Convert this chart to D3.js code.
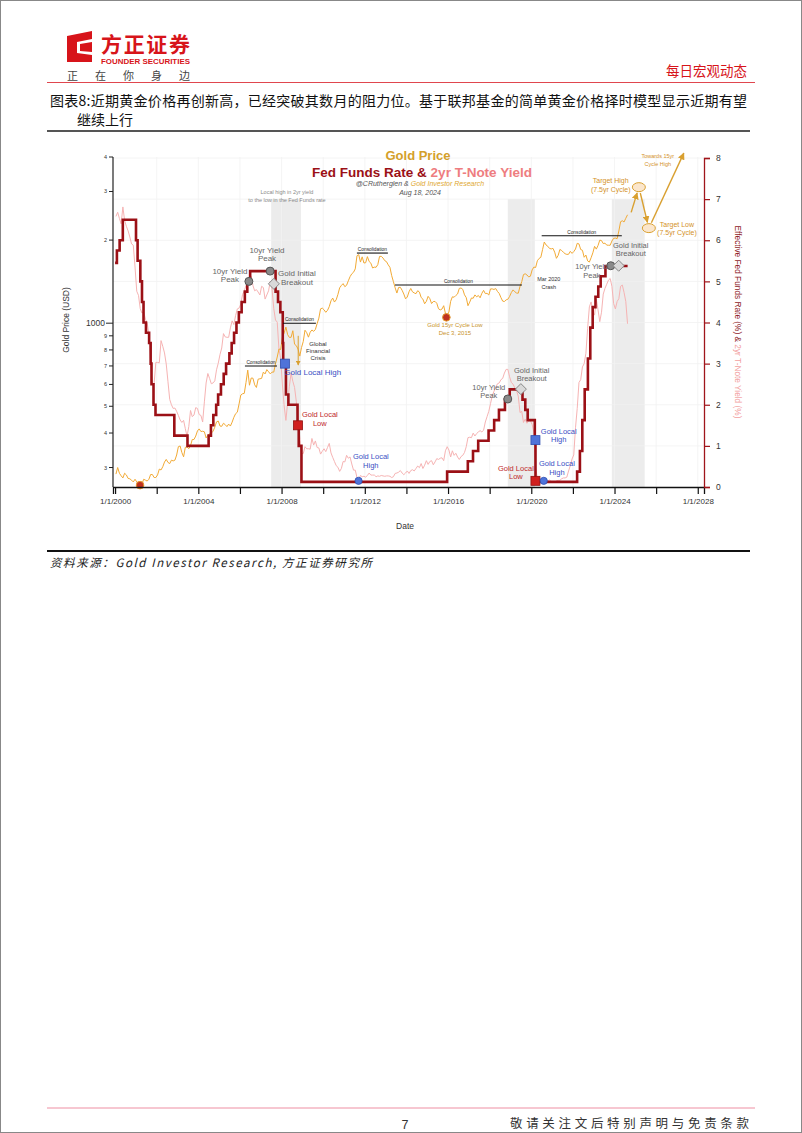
<!DOCTYPE html>
<html><head><meta charset="utf-8">
<script src="https://cdn.jsdelivr.net/npm/d3@7"></script>
<style>
body{margin:0;background:#fff;}
svg text{font-family:"Liberation Sans",Arial,sans-serif;}
svg text.cn{font-family:"Noto Sans CJK SC",sans-serif;}
</style></head><body>
<svg id="c" width="802" height="1133"></svg>
<script>
// ---------------- DATA ----------------
// Monthly gold price (USD/oz), starting Jan 2000
const goldPrice = [
284,300,286,280,275,286,282,274,273,270,266,272,
266,262,263,261,272,270,268,272,283,283,276,276,
282,296,294,302,314,321,313,310,319,317,319,333,
357,359,340,328,355,356,351,360,379,379,390,407,
414,405,406,404,384,392,398,400,406,420,439,442,
424,423,434,429,422,431,424,438,456,470,476,510,
549,555,557,610,676,596,633,632,598,585,627,629,
631,665,655,679,667,655,665,665,712,754,806,803,
889,922,968,909,888,889,939,839,829,806,760,816,
858,943,924,890,928,945,934,949,996,1043,1127,1134,
1118,1095,1113,1148,1205,1233,1193,1215,1271,1343,1370,1391,
1356,1372,1424,1474,1510,1529,1573,1756,1772,1665,1739,1652,
1656,1742,1673,1650,1585,1596,1594,1630,1745,1747,1722,1685,
1671,1627,1593,1487,1414,1343,1286,1347,1349,1316,1275,1225,
1244,1300,1336,1299,1287,1279,1311,1296,1239,1222,1176,1200,
1251,1227,1178,1198,1199,1181,1128,1117,1125,1157,1086,1068,
1097,1199,1246,1242,1260,1276,1337,1341,1326,1267,1238,1157,
1192,1234,1231,1266,1246,1260,1236,1283,1315,1280,1283,1265,
1331,1331,1325,1335,1303,1282,1238,1202,1198,1215,1221,1250,
1291,1320,1300,1286,1284,1359,1413,1500,1510,1495,1471,1480,
1560,1597,1591,1683,1716,1732,1847,1968,1921,1900,1866,1858,
1867,1808,1718,1760,1850,1834,1807,1785,1775,1777,1821,1790,
1817,1856,1947,1937,1849,1837,1733,1765,1681,1665,1726,1798,
1898,1855,1912,1999,1992,1943,1950,1918,1916,1916,1985,2030,
2034,2023,2158,2331,2350,2326,2399,2470
];
// Monthly 2yr T-Note yield (%), starting Jan 2000
const tnote2y = [
6.58,6.68,6.53,6.40,6.81,6.48,6.34,6.23,6.08,5.91,5.88,5.35,
4.76,4.66,4.34,4.23,4.26,4.08,3.99,3.71,3.05,2.49,2.51,3.03,
3.03,3.02,3.56,3.42,3.26,2.99,2.56,2.13,2.00,1.91,1.92,1.84,
1.74,1.63,1.57,1.62,1.42,1.23,1.47,1.86,1.71,1.75,1.93,1.91,
1.76,1.74,1.58,2.07,2.53,2.76,2.64,2.51,2.53,2.58,2.85,3.01,
3.22,3.38,3.73,3.65,3.64,3.64,3.87,4.04,3.95,4.17,4.33,4.35,
4.45,4.68,4.77,4.90,5.00,5.07,5.12,4.90,4.77,4.80,4.74,4.67,
4.88,4.85,4.57,4.67,4.77,5.00,4.82,4.34,4.06,4.01,3.35,3.12,
2.48,1.97,1.62,2.05,2.45,2.77,2.57,2.42,2.08,1.61,1.21,0.82,
0.81,0.98,0.93,0.93,0.92,1.18,1.02,1.12,0.96,0.95,0.80,0.87,
0.93,0.86,0.96,1.06,0.83,0.72,0.62,0.52,0.48,0.38,0.45,0.62,
0.61,0.77,0.70,0.73,0.56,0.41,0.41,0.23,0.20,0.28,0.25,0.26,
0.24,0.28,0.34,0.29,0.29,0.29,0.25,0.27,0.26,0.28,0.27,0.26,
0.27,0.27,0.26,0.23,0.25,0.33,0.34,0.36,0.40,0.34,0.30,0.34,
0.39,0.33,0.40,0.42,0.39,0.45,0.51,0.47,0.57,0.45,0.53,0.64,
0.55,0.62,0.64,0.54,0.61,0.69,0.67,0.70,0.71,0.64,0.88,0.98,
0.90,0.73,0.88,0.77,0.82,0.73,0.67,0.74,0.77,0.84,0.98,1.20,
1.21,1.20,1.31,1.24,1.30,1.34,1.37,1.34,1.38,1.58,1.71,1.84,
2.03,2.22,2.33,2.42,2.51,2.53,2.61,2.64,2.77,2.86,2.86,2.68,
2.54,2.50,2.41,2.34,2.21,1.81,1.84,1.57,1.65,1.55,1.61,1.61,
1.52,1.33,0.45,0.22,0.17,0.19,0.15,0.14,0.13,0.14,0.17,0.13,
0.13,0.12,0.15,0.16,0.16,0.20,0.22,0.22,0.24,0.39,0.52,0.68,
0.78,1.44,1.91,2.54,2.61,2.92,3.00,3.25,3.86,4.38,4.50,4.29,
4.18,4.57,4.31,4.02,4.25,4.69,4.83,4.93,5.03,5.07,4.88,4.46,
4.33,4.51,4.58,4.88,4.91,4.73,4.51,3.97
];
// Fed funds rate changes [date, rate %]
const fedSteps = [
["2000-01-01",5.45],["2000-02-02",5.75],["2000-03-21",6.0],["2000-05-16",6.5],["2001-01-03",6.0],["2001-01-31",5.5],
["2001-03-20",5.0],["2001-04-18",4.5],["2001-05-15",4.0],["2001-06-27",3.75],["2001-08-21",3.5],["2001-09-17",3.0],
["2001-10-02",2.5],["2001-11-06",2.0],["2001-12-11",1.75],["2002-11-06",1.25],["2003-06-25",1.0],["2004-06-30",1.25],
["2004-08-10",1.5],["2004-09-21",1.75],["2004-11-10",2.0],["2004-12-14",2.25],["2005-02-02",2.5],["2005-03-22",2.75],
["2005-05-03",3.0],["2005-06-30",3.25],["2005-08-09",3.5],["2005-09-20",3.75],["2005-11-01",4.0],["2005-12-13",4.25],
["2006-01-31",4.5],["2006-03-28",4.75],["2006-05-10",5.0],["2006-06-29",5.25],["2007-09-18",4.75],["2007-10-31",4.5],
["2007-12-11",4.25],["2008-01-22",3.5],["2008-01-30",3.0],["2008-03-18",2.25],["2008-04-30",2.0],["2008-10-08",1.5],
["2008-10-29",1.0],["2008-12-16",0.125],["2015-12-16",0.375],["2016-12-14",0.625],["2017-03-15",0.875],["2017-06-14",1.125],
["2017-12-13",1.375],["2018-03-21",1.625],["2018-06-13",1.875],["2018-09-26",2.125],["2018-12-19",2.375],["2019-07-31",2.125],
["2019-09-18",1.875],["2019-10-30",1.625],["2020-03-03",1.125],["2020-03-15",0.125],["2022-03-16",0.375],["2022-05-04",0.875],
["2022-06-15",1.625],["2022-07-27",2.375],["2022-09-21",3.125],["2022-11-02",3.875],["2022-12-14",4.375],["2023-02-01",4.625],
["2023-03-22",4.875],["2023-05-03",5.125],["2023-07-26",5.375],["2024-08-18",5.375]
];
const xTickYears = [2000,2002,2004,2006,2008,2010,2012,2014,2016,2018,2020,2022,2024,2026,2028];
const goldTicks = [300,400,500,600,700,800,900,1000,2000,3000,4000];
const goldTickLabels = ["3","4","5","6","7","8","9","1000","2","3","4"];
const rateTicks = [0,1,2,3,4,5,6,7,8];
const shadedPeriods = [[2007.50,2008.93],[2018.87,2020.17],[2023.87,2025.45]];
// consolidation ranges [startYear, endYear, gold price]
const consolidations = [[2006.24,2007.78,700],[2008.07,2009.65,1000],[2011.62,2013.11,1795],[2013.45,2019.55,1375],[2020.50,2024.35,2075]];
// markers on the rate axis [year, rate, kind]
const rateMarkers = [
[2006.43,5.0,"gray"],[2007.45,5.25,"gray"],[2007.63,4.94,"diamond"],[2008.16,3.0,"bsq"],[2008.79,1.5,"rsq"],
[2011.70,0.15,"bcirc"],[2018.87,2.14,"gray"],[2019.50,2.38,"diamond"],[2020.20,1.14,"bsq"],[2020.20,0.15,"rsq"],
[2020.60,0.15,"bcirc"],[2023.82,5.38,"gray"],[2024.20,5.38,"diamond"]
];
// markers on the gold axis [year, price]
const goldLows = [[2001.20,259],[2015.92,1050]];
// projected path [year, price]
const projTargetHigh = [2025.17,3110];
const projTargetLow = [2025.65,2210];
const projStart = [2024.80,2520];
const projEnd = [2027.33,4130];
// annotations [year, rate, lines, color, size, line spacing]
const notes = [
[2008.26,7.12,["Local high in 2yr yield","to the low in the Fed Funds rate"],"#8a8a8a",5.5,7.5],
[2005.52,5.18,["10yr Yield","Peak"],"#666",8,8.5],
[2007.30,5.70,["10yr Yield","Peak"],"#666",8,8.5],
[2008.74,5.12,["Gold Initial","Breakout"],"#666",8,8.5],
[2009.75,3.42,["Global","Financial","Crisis"],"#333",6,7],
[2009.50,2.72,["Gold Local High"],"#3a4fc4",8,8.5],
[2009.84,1.70,["Gold Local","Low"],"#c0282b",7.5,8.5],
[2012.29,0.68,["Gold Local","High"],"#3a4fc4",7.5,8.5],
[2016.33,3.89,["Gold 15yr Cycle Low","Dec 3, 2015"],"#c8922a",6,8],
[2017.96,2.36,["10yr Yield","Peak"],"#666",7.5,8.5],
[2020.02,2.78,["Gold Initial","Breakout"],"#666",7.5,8.5],
[2020.84,5.00,["Mar 2020","Crash"],"#333",5.5,7.5],
[2021.32,1.29,["Gold Local","High"],"#3a4fc4",7.5,8.5],
[2019.26,0.39,["Gold Local","Low"],"#c0282b",7.5,8.5],
[2021.23,0.51,["Gold Local","High"],"#3a4fc4",7.5,8.5],
[2022.91,5.30,["10yr Yield","Peak"],"#666",7.5,8.5],
[2024.78,5.82,["Gold Initial","Breakout"],"#666",7.5,8.5],
[2023.82,7.38,["Target High","(7.5yr Cycle)"],"#d4922a",7,8.5],
[2027.00,6.33,["Target Low","(7.5yr Cycle)"],"#d4922a",7,8.5],
[2026.08,8.00,["Towards 15yr","Cycle High"],"#d4922a",5.5,7.5]
];

// ---------------- DRAW ----------------
const svg = d3.select("#c");
svg.append("rect").attr("x",0.5).attr("y",0.5).attr("width",801).attr("height",1132).attr("fill","#fff").attr("stroke","#888");

// header
const hdr = svg.append("g");
hdr.append("path").attr("d","M67,36 L92,31 L92,39 L77,42 L77,53 L92,55 L92,62 L67,62 Z").attr("fill","#d7141a");
hdr.append("path").attr("d","M80,44 L92,42 L92,52 L80,51 Z").attr("fill","#d7141a");
hdr.append("text").attr("class","cn").attr("x",101).attr("y",52).attr("font-size",21).attr("font-weight","bold").attr("fill","#d7141a").attr("textLength",89).text("方正证券");
hdr.append("text").attr("x",101).attr("y",64).attr("font-size",7).attr("font-weight","bold").attr("fill","#d7141a").attr("textLength",89).attr("lengthAdjust","spacingAndGlyphs").text("FOUNDER SECURITIES");
hdr.append("text").attr("class","cn").attr("x",67).attr("y",80).attr("font-size",11).attr("fill","#444").attr("textLength",123).text("正在你身边");
hdr.append("text").attr("class","cn").attr("x",747).attr("y",76).attr("text-anchor","end").attr("font-size",13.5).attr("fill","#d7141a").text("每日宏观动态");
hdr.append("line").attr("x1",47).attr("x2",755).attr("y1",82.5).attr("y2",82.5).attr("stroke","#e0464e").attr("stroke-width",1);
hdr.append("text").attr("class","cn").attr("x",50).attr("y",106).attr("font-size",14).attr("fill","#111").attr("textLength",697).text("图表8:近期黄金价格再创新高，已经突破其数月的阻力位。基于联邦基金的简单黄金价格择时模型显示近期有望");
hdr.append("text").attr("class","cn").attr("x",77).attr("y",125).attr("font-size",14).attr("fill","#111").text("继续上行");
hdr.append("line").attr("x1",47).attr("x2",750).attr("y1",131).attr("y2",131).attr("stroke","#555").attr("stroke-width",2);
svg.append("line").attr("x1",47).attr("x2",750).attr("y1",551).attr("y2",551).attr("stroke","#111").attr("stroke-width",2);
svg.append("text").attr("class","cn").attr("x",50).attr("y",567).attr("font-size",11.5).attr("font-style","italic").attr("fill","#222").attr("textLength",322).text("资料来源：Gold Investor Research, 方正证券研究所");
svg.append("line").attr("x1",47).attr("x2",755).attr("y1",1108).attr("y2",1108).attr("stroke","#ee8fa3").attr("stroke-width",1);
svg.append("text").attr("x",405).attr("y",1129).attr("font-size",12.5).attr("fill","#333").attr("text-anchor","middle").text("7");
svg.append("text").attr("class","cn").attr("x",510).attr("y",1128).attr("font-size",12.5).attr("fill","#333").attr("textLength",239).text("敬请关注文后特别声明与免责条款");

// scales
const L = 113, R = 704, T = 157, B = 487;
const x = d3.scaleLinear().domain([1999.9, 2028.3]).range([L, R]);
const yG = d3.scaleLog().domain([255, 4000]).range([B, T]);
const yR = d3.scaleLinear().domain([0, 8]).range([B, 158]);
const parse = d3.timeParse("%Y-%m-%d");
const dec = d => { const dt = parse(d); const y0 = dt.getFullYear(); return y0 + (dt - new Date(y0,0,1)) / (new Date(y0+1,0,1) - new Date(y0,0,1)); };

const plot = svg.append("g");
// shaded periods
plot.selectAll("rect.sh").data(shadedPeriods).join("rect")
  .attr("x", d => x(d[0])).attr("width", d => x(d[1]) - x(d[0]))
  .attr("y", 199).attr("height", B - 199).attr("fill", "#ececec");
// grid
plot.selectAll("line.gh").data(rateTicks.slice(1)).join("line")
  .attr("x1", L).attr("x2", R).attr("y1", d => yR(d)).attr("y2", d => yR(d)).attr("stroke", "#f1f1f1").attr("stroke-width", 0.8);
plot.selectAll("line.gv").data(xTickYears.slice(1)).join("line")
  .attr("x1", d => x(d)).attr("x2", d => x(d)).attr("y1", T).attr("y2", B).attr("stroke", "#f1f1f1").attr("stroke-width", 0.8);

// 2yr yield
const tData = tnote2y.map((v, i) => [2000 + (i + 0.5) / 12, v]);
plot.append("path").datum(tData).attr("fill", "none").attr("stroke", "#f6b3b3").attr("stroke-width", 1)
  .attr("d", d3.line().x(d => x(d[0])).y(d => yR(d[1])));
// gold
const gData = goldPrice.map((v, i) => [2000 + (i + 0.5) / 12, v]);
plot.append("path").datum(gData).attr("fill", "none").attr("stroke", "#f2aa35").attr("stroke-width", 1)
  .attr("d", d3.line().x(d => x(d[0])).y(d => yG(d[1])));
// fed funds
const fData = fedSteps.map(d => [dec(d[0]), d[1]]);
plot.append("path").datum(fData).attr("fill", "none").attr("stroke", "#9b1016").attr("stroke-width", 2.6)
  .attr("d", d3.line().curve(d3.curveStepAfter).x(d => x(d[0])).y(d => yR(d[1])));

// consolidation lines
consolidations.forEach(c => {
  plot.append("line").attr("x1", x(c[0])).attr("x2", x(c[1])).attr("y1", yG(c[2])).attr("y2", yG(c[2])).attr("stroke", "#111").attr("stroke-width", 1.1);
  plot.append("text").attr("x", (x(c[0]) + x(c[1])) / 2).attr("y", yG(c[2]) - 2).attr("text-anchor", "middle").attr("font-size", 4.8).attr("fill", "#222").text("Consolidation");
});

// GFC arrow
const defs = svg.append("defs");
defs.append("marker").attr("id","ah").attr("viewBox","0 0 10 10").attr("refX",9).attr("refY",5).attr("markerWidth",5).attr("markerHeight",5).attr("orient","auto")
  .append("path").attr("d","M0,0 L10,5 L0,10 Z").attr("fill","#d9a030");
plot.append("line").attr("x1", x(2008.8)).attr("x2", x(2008.8)).attr("y1", yG(900)).attr("y2", yG(705)).attr("stroke","#d9a030").attr("stroke-width",1).attr("marker-end","url(#ah)");

// projection arrows
const proj = [[projStart, projTargetHigh],[projTargetHigh, projTargetLow],[projTargetLow, projEnd]];
proj.forEach((p, i) => {
  const x1 = x(p[0][0]), y1 = yG(p[0][1]), x2 = x(p[1][0]), y2 = yG(p[1][1]);
  const dx = x2 - x1, dy = y2 - y1, len = Math.hypot(dx, dy);
  const s0 = i === 0 ? 0 : 6, s1 = i === 2 ? 0 : 6;
  plot.append("line").attr("x1", x1 + dx / len * s0).attr("y1", y1 + dy / len * s0).attr("x2", x2 - dx / len * s1).attr("y2", y2 - dy / len * s1)
    .attr("stroke", "#d9a030").attr("stroke-width", 1.4).attr("marker-end", "url(#ah)");
});
[projTargetHigh, projTargetLow].forEach(p => {
  plot.append("ellipse").attr("cx", x(p[0])).attr("cy", yG(p[1])).attr("rx", 6.5).attr("ry", 4.5).attr("fill", "#fbe6cc").attr("stroke", "#d9a030").attr("stroke-width", 1);
});

// gold lows
goldLows.forEach(g => {
  plot.append("circle").attr("cx", x(g[0])).attr("cy", yG(g[1])).attr("r", 3.8).attr("fill", "#c0311f").attr("stroke", "#e39a2c").attr("stroke-width", 1);
});
// rate markers
rateMarkers.forEach(m => {
  const cx = x(m[0]), cy = yR(m[1]);
  if (m[2] === "gray") plot.append("circle").attr("cx", cx).attr("cy", cy).attr("r", 4).attr("fill", "#8a8a8a").attr("stroke", "#555").attr("stroke-width", 1);
  if (m[2] === "diamond") plot.append("path").attr("d", `M${cx},${cy-5.5}L${cx+5.5},${cy}L${cx},${cy+5.5}L${cx-5.5},${cy}Z`).attr("fill", "#d9d9d9").attr("stroke", "#888").attr("stroke-width", 1);
  if (m[2] === "bsq") plot.append("rect").attr("x", cx - 4.5).attr("y", cy - 4.5).attr("width", 9).attr("height", 9).attr("fill", "#4f73d9").attr("stroke", "#2f4fb0").attr("stroke-width", 0.8);
  if (m[2] === "rsq") plot.append("rect").attr("x", cx - 4.5).attr("y", cy - 4.5).attr("width", 9).attr("height", 9).attr("fill", "#d0201f").attr("stroke", "#901010").attr("stroke-width", 0.8);
  if (m[2] === "bcirc") plot.append("circle").attr("cx", cx).attr("cy", cy).attr("r", 3.6).attr("fill", "#4f73d9").attr("stroke", "#2f4fb0").attr("stroke-width", 0.8);
});

// annotations
notes.forEach(n => {
  const t = plot.append("text").attr("text-anchor", "middle").attr("font-size", n[4]).attr("fill", n[3]);
  n[2].forEach((s, i) => t.append("tspan").attr("x", x(n[0])).attr("y", yR(n[1]) + i * n[5]).text(s));
});

// axes
const ax = svg.append("g");
ax.append("line").attr("x1", L).attr("x2", L).attr("y1", T).attr("y2", B).attr("stroke", "#222").attr("stroke-width", 1.2);
goldTicks.forEach((v, i) => {
  const major = v === 1000;
  ax.append("line").attr("x1", L - (major ? 7 : 4)).attr("x2", L).attr("y1", yG(v)).attr("y2", yG(v)).attr("stroke", "#222").attr("stroke-width", 1);
  ax.append("text").attr("x", L - (major ? 8 : 6)).attr("y", yG(v) + (major ? 3 : 2)).attr("text-anchor", "end").attr("font-size", major ? 8.5 : 5.5).attr("fill", "#333").text(goldTickLabels[i]);
});
ax.append("text").attr("transform", `translate(69,${(T + B) / 2 - 2}) rotate(-90)`).attr("text-anchor", "middle").attr("font-size", 8.5).attr("fill", "#333").text("Gold Price (USD)");

// bottom axis
const xAxis = d3.axisBottom(x).tickValues(xTickYears).tickSize(7).tickFormat(d => d % 4 === 0 ? "1/1/" + d : "");
const gx = ax.append("g").attr("transform", `translate(0,${B})`).call(xAxis);
gx.select(".domain").attr("stroke", "#111").attr("stroke-width", 1.3);
gx.selectAll(".tick line").attr("stroke", "#111").attr("stroke-width", 1.2);
gx.selectAll(".tick text").attr("font-size", 8).attr("fill", "#333").attr("dy", "0.9em").attr("font-family", "Liberation Sans, Arial, sans-serif");
ax.append("text").attr("x", 405).attr("y", 529).attr("text-anchor", "middle").attr("font-size", 8.5).attr("fill", "#333").text("Date");

// right axis
const yAxisR = d3.axisRight(yR).tickValues(rateTicks).tickSize(6).tickPadding(6);
const gr = ax.append("g").attr("transform", `translate(${R},0)`).call(yAxisR);
gr.select(".domain").attr("stroke", "#a0151b").attr("stroke-width", 1.3);
gr.selectAll(".tick line").attr("stroke", "#a0151b").attr("stroke-width", 1.2);
gr.selectAll(".tick text").attr("font-size", 8.5).attr("fill", "#333").attr("font-family", "Liberation Sans, Arial, sans-serif");
const rl = ax.append("text").attr("transform", `translate(735,${(T + B) / 2}) rotate(90)`).attr("text-anchor", "middle").attr("font-size", 8.3);
rl.append("tspan").attr("fill", "#8e1a1f").text("Effective Fed Funds Rate (%) & ");
rl.append("tspan").attr("fill", "#f2a0a0").text("2yr T-Note Yield (%)");

// titles
const tt = svg.append("g");
tt.append("text").attr("x", 418).attr("y", 160).attr("text-anchor", "middle").attr("font-size", 13).attr("font-weight", "bold").attr("fill", "#d4a02a").text("Gold Price");
const t2 = tt.append("text").attr("x", 422).attr("y", 177).attr("text-anchor", "middle").attr("font-size", 13.5).attr("font-weight", "bold");
t2.append("tspan").attr("fill", "#9b1016").text("Fed Funds Rate & ");
t2.append("tspan").attr("fill", "#ee7d80").text("2yr T-Note Yield");
const t3 = tt.append("text").attr("x", 420).attr("y", 186).attr("text-anchor", "middle").attr("font-size", 7).attr("font-style", "italic");
t3.append("tspan").attr("fill", "#555").text("@CRutherglen & ");
t3.append("tspan").attr("fill", "#e0a830").text("Gold Investor Research");
tt.append("text").attr("x", 420).attr("y", 195).attr("text-anchor", "middle").attr("font-size", 7).attr("font-style", "italic").attr("fill", "#555").text("Aug 18, 2024");
</script>
</body></html>
